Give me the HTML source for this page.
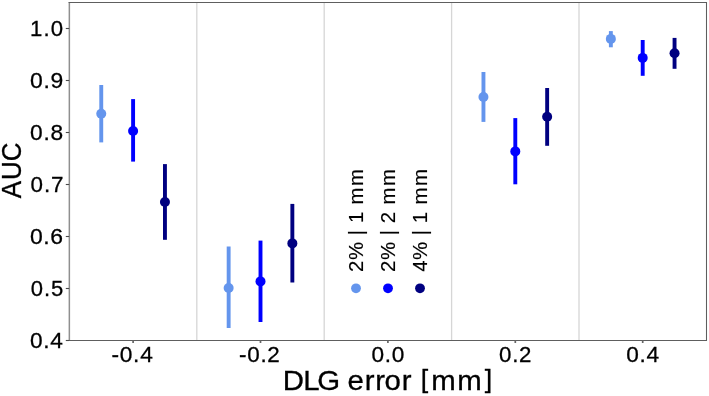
<!DOCTYPE html>
<html>
<head>
<meta charset="utf-8">
<style>
html,body{margin:0;padding:0;background:#fff;}
body{width:709px;height:396px;overflow:hidden;}
svg{display:block;will-change:transform;}
text{font-family:"Liberation Sans",sans-serif;fill:#000;stroke:#000;stroke-width:0.3px;}
</style>
</head>
<body>
<svg width="709" height="396" viewBox="0 0 709 396">
<rect x="0" y="0" width="709" height="396" fill="#fff"/>
<g stroke="#d6d6d6" stroke-width="1.3">
<line x1="196.80" y1="2.5" x2="196.80" y2="340.5"/>
<line x1="324.20" y1="2.5" x2="324.20" y2="340.5"/>
<line x1="451.60" y1="2.5" x2="451.60" y2="340.5"/>
<line x1="579.00" y1="2.5" x2="579.00" y2="340.5"/>
</g>
<line x1="69.35" y1="2" x2="69.35" y2="341" stroke="#8f8f8f" stroke-width="1.5"/>
<g stroke="#5e5e5e" stroke-width="1.05"><line x1="68.6" y1="2.5" x2="707" y2="2.5"/><line x1="68.6" y1="340.5" x2="707" y2="340.5"/><line x1="706.5" y1="2" x2="706.5" y2="341"/></g>
<g stroke="#4a4a4a" stroke-width="1.1">
<line x1="65.8" y1="340.50" x2="69.2" y2="340.50"/>
<line x1="65.8" y1="288.50" x2="69.2" y2="288.50"/>
<line x1="65.8" y1="236.50" x2="69.2" y2="236.50"/>
<line x1="65.8" y1="184.50" x2="69.2" y2="184.50"/>
<line x1="65.8" y1="132.50" x2="69.2" y2="132.50"/>
<line x1="65.8" y1="80.50" x2="69.2" y2="80.50"/>
<line x1="65.8" y1="28.50" x2="69.2" y2="28.50"/>
</g>
<g stroke="#666" stroke-width="1.7">
<line x1="133.10" y1="340.5" x2="133.10" y2="343"/>
<line x1="260.50" y1="340.5" x2="260.50" y2="343"/>
<line x1="387.90" y1="340.5" x2="387.90" y2="343"/>
<line x1="515.30" y1="340.5" x2="515.30" y2="343"/>
<line x1="642.70" y1="340.5" x2="642.70" y2="343"/>
</g>
<text transform="translate(29.37,348.40) scale(0.9972,1)" x="0.52 13.90 20.99" y="0.00" font-size="22.68">0.4</text>
<text transform="translate(30.04,296.40) scale(0.9719,1)" x="0.69 14.35 21.62" y="0.00" font-size="22.68">0.5</text>
<text transform="translate(29.51,244.40) scale(1.0128,1)" x="0.41 13.64 20.57" y="0.00" font-size="22.68">0.6</text>
<text transform="translate(30.00,192.40) scale(0.9877,1)" x="0.58 14.07 21.21" y="0.00" font-size="22.68">0.7</text>
<text transform="translate(29.63,140.40) scale(1.0021,1)" x="0.48 13.82 20.86" y="0.00" font-size="22.68">0.8</text>
<text transform="translate(29.67,88.40) scale(1.0118,1)" x="0.42 13.66 20.53" y="0.00" font-size="22.68">0.9</text>
<text transform="translate(29.59,36.40) scale(0.9781,1)" x="0.54 14.24 21.52" y="0.00" font-size="22.68">1.0</text>
<text transform="translate(111.52,361.70) scale(1.0009,1)" x="0.08 8.21 21.55 28.60" y="0.00" font-size="22.68">-0.4</text>
<text transform="translate(238.92,361.70) scale(0.9883,1)" x="0.13 8.39 21.87 28.77" y="0.00" font-size="22.68">-0.2</text>
<text transform="translate(370.88,361.70) scale(0.9972,1)" x="0.52 13.90 20.99" y="0.00" font-size="22.68">0.0</text>
<text transform="translate(498.28,361.70) scale(0.9814,1)" x="0.63 14.18 21.14" y="0.00" font-size="22.68">0.2</text>
<text transform="translate(625.68,361.70) scale(0.9972,1)" x="0.52 13.90 20.99" y="0.00" font-size="22.68">0.4</text>
<text transform="translate(283.00,389.80) scale(1.0433,1)" font-size="28.19"><tspan x="-0.35 19.39 32.77 53.73 61.75 78.39 88.42 97.30 113.94 123.55" y="0.00">DLG error </tspan><tspan x="131.97" y="-1.60" font-size="25.69">[</tspan><tspan x="142.21 167.05" y="0.00">mm</tspan><tspan x="193.50" y="-1.60" font-size="25.69">]</tspan></text>
<text transform="translate(21.00,198.60) rotate(-90) scale(0.9183,1)" x="0.50 20.24 40.80" y="0.00" font-size="28.19">AUC</text>
<text transform="translate(362.80,272.00) rotate(-90) scale(1.0117,1)" x="0.12 11.92 29.98 36.31 42.28 48.33 60.20 66.79 85.09" y="0.00" font-size="20.13" style="stroke-width:0.15px">2% | 1 mm</text>
<text transform="translate(394.80,272.00) rotate(-90) scale(1.0125,1)" x="0.12 11.90 29.96 36.28 42.24 48.14 60.15 66.73 85.01" y="0.00" font-size="20.13" style="stroke-width:0.15px">2% | 2 mm</text>
<text transform="translate(426.80,272.00) rotate(-90) scale(1.0165,1)" x="0.34 11.82 29.83 36.13 42.06 48.07 59.90 66.43 84.64" y="0.00" font-size="20.13" style="stroke-width:0.15px">4% | 1 mm</text>
<circle cx="356.00" cy="288.3" r="4.9" fill="#6495ED"/>
<circle cx="388.00" cy="288.3" r="4.9" fill="#0000FF"/>
<circle cx="420.00" cy="288.3" r="4.9" fill="#000080"/>
<g stroke-width="3.9">
<line x1="101.25" y1="85.00" x2="101.25" y2="142.40" stroke="#6495ED"/>
<line x1="133.10" y1="99.10" x2="133.10" y2="161.60" stroke="#0000FF"/>
<line x1="164.95" y1="164.10" x2="164.95" y2="239.80" stroke="#000080"/>
<line x1="228.65" y1="246.50" x2="228.65" y2="328.00" stroke="#6495ED"/>
<line x1="260.50" y1="240.60" x2="260.50" y2="322.00" stroke="#0000FF"/>
<line x1="292.35" y1="203.90" x2="292.35" y2="282.50" stroke="#000080"/>
<line x1="483.45" y1="72.00" x2="483.45" y2="121.90" stroke="#6495ED"/>
<line x1="515.30" y1="118.10" x2="515.30" y2="184.30" stroke="#0000FF"/>
<line x1="547.15" y1="88.00" x2="547.15" y2="145.80" stroke="#000080"/>
<line x1="610.85" y1="31.10" x2="610.85" y2="47.30" stroke="#6495ED"/>
<line x1="642.70" y1="40.00" x2="642.70" y2="75.80" stroke="#0000FF"/>
<line x1="674.55" y1="37.90" x2="674.55" y2="68.80" stroke="#000080"/>
</g>
<circle cx="101.25" cy="113.70" r="5.0" fill="#6495ED"/>
<circle cx="133.10" cy="131.00" r="5.0" fill="#0000FF"/>
<circle cx="164.95" cy="202.00" r="5.0" fill="#000080"/>
<circle cx="228.65" cy="288.00" r="5.0" fill="#6495ED"/>
<circle cx="260.50" cy="281.40" r="5.0" fill="#0000FF"/>
<circle cx="292.35" cy="243.40" r="5.0" fill="#000080"/>
<circle cx="483.45" cy="97.00" r="5.0" fill="#6495ED"/>
<circle cx="515.30" cy="151.40" r="5.0" fill="#0000FF"/>
<circle cx="547.15" cy="116.80" r="5.0" fill="#000080"/>
<circle cx="610.85" cy="38.90" r="5.0" fill="#6495ED"/>
<circle cx="642.70" cy="57.90" r="5.0" fill="#0000FF"/>
<circle cx="674.55" cy="53.30" r="5.0" fill="#000080"/>
</svg>
</body>
</html>
